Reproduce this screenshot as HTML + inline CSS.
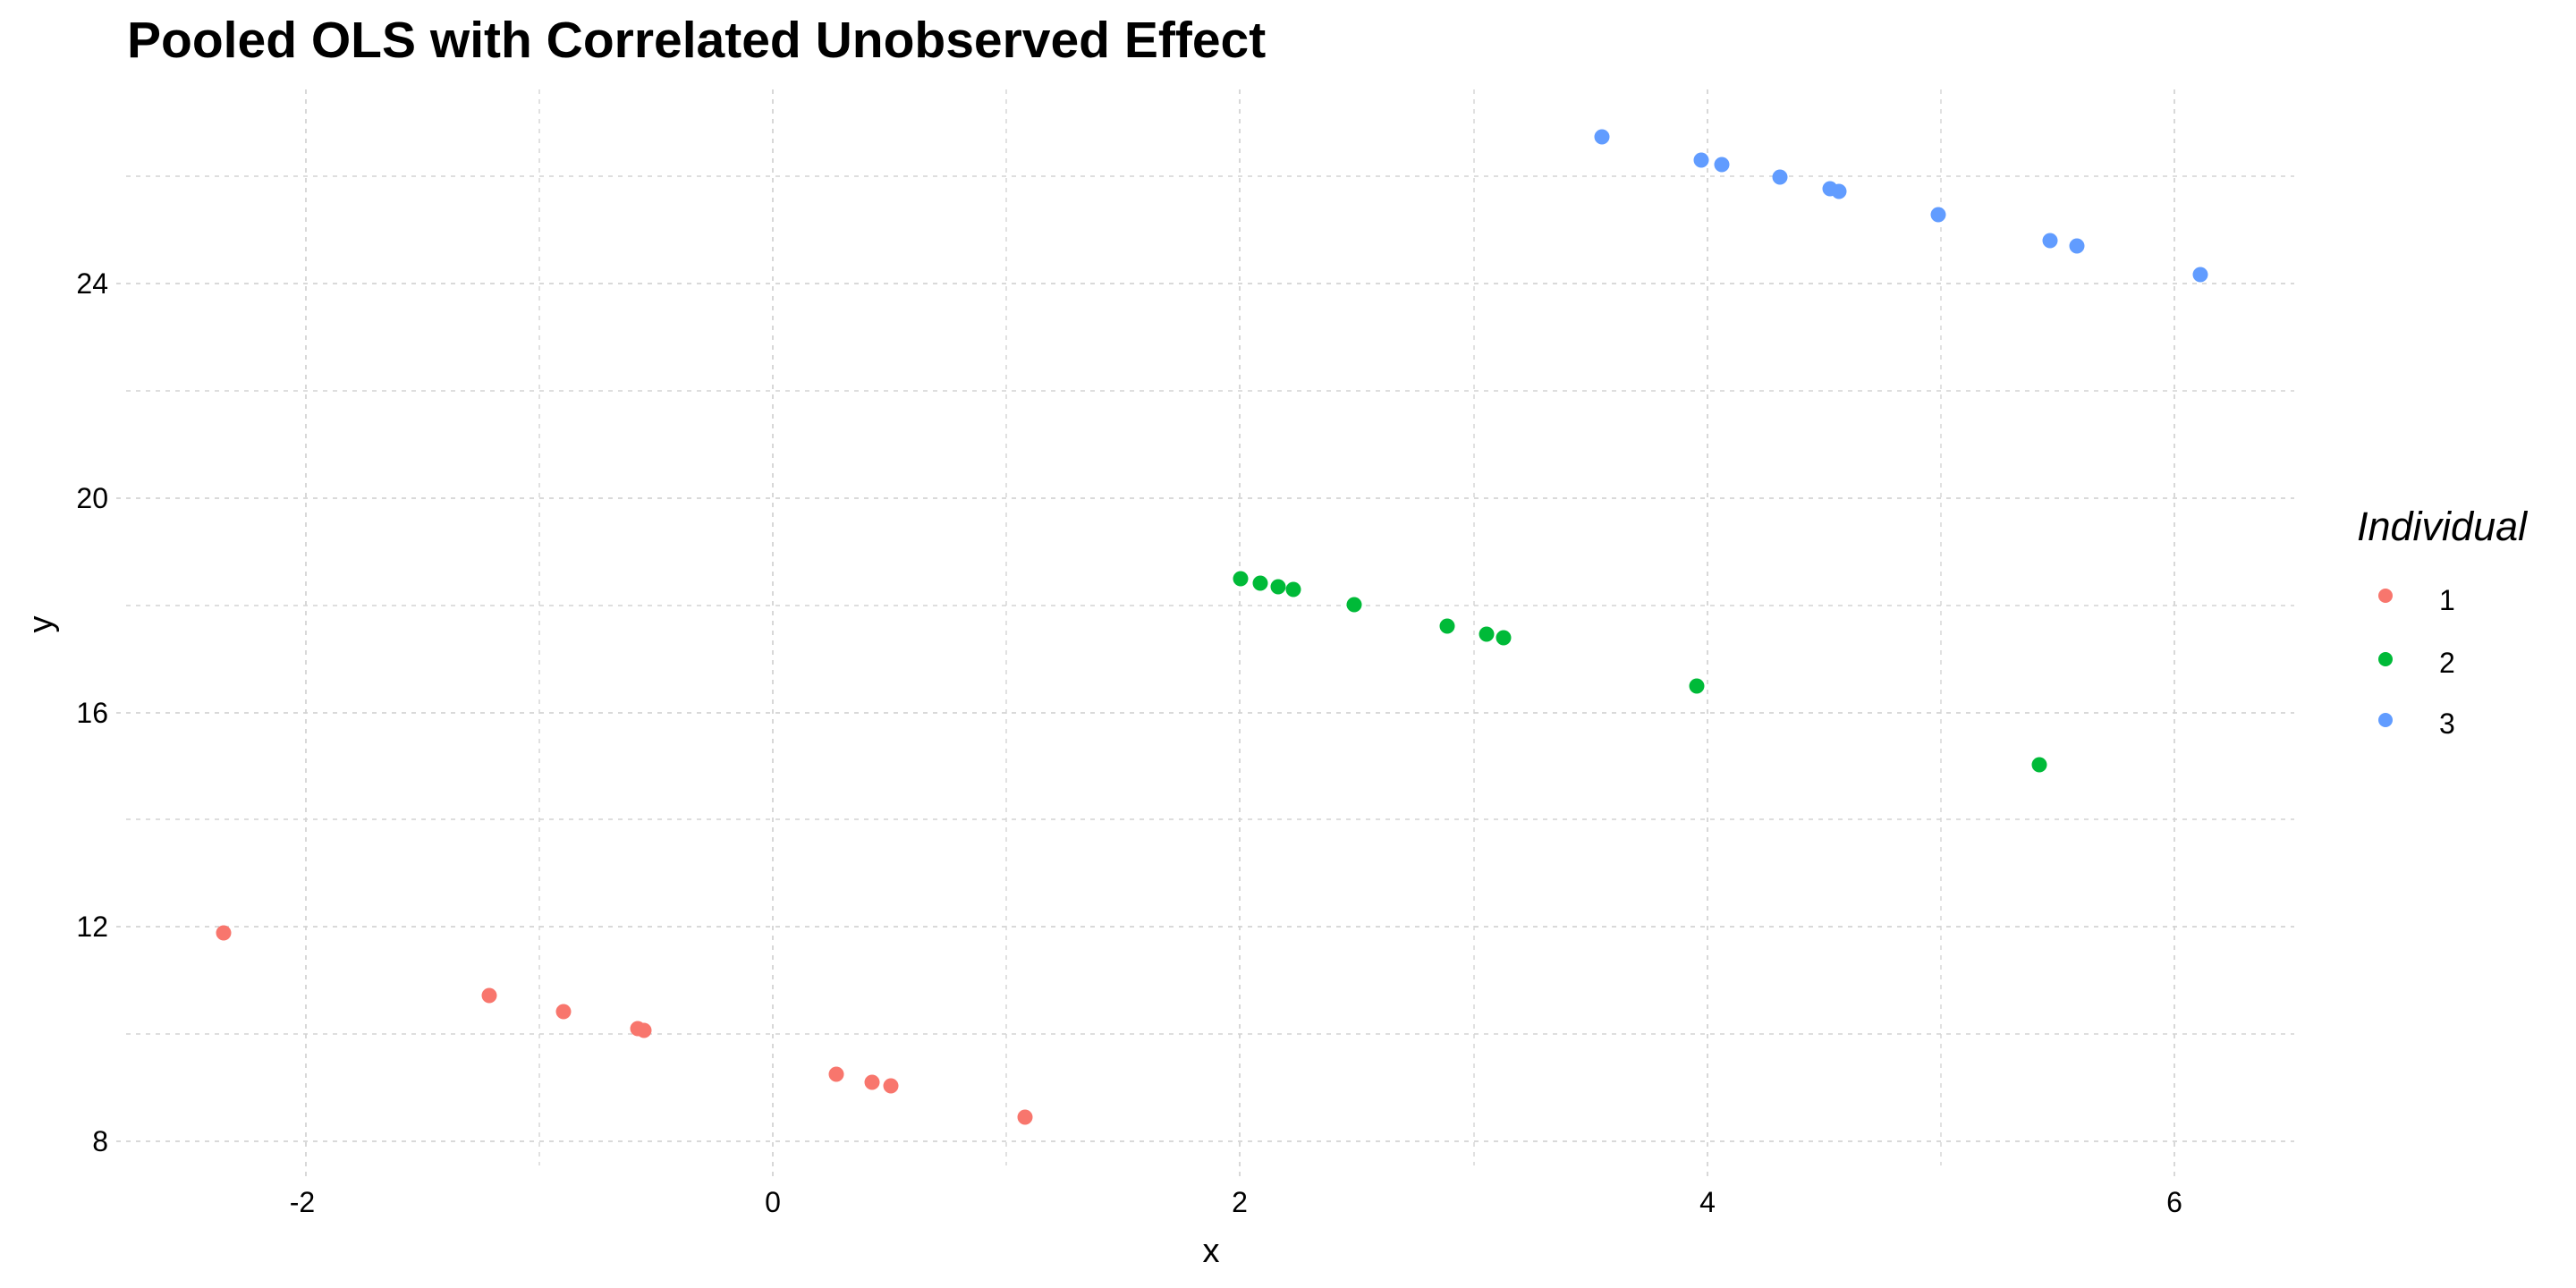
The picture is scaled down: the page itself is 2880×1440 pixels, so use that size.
<!DOCTYPE html>
<html><head><meta charset="utf-8"><style>
html,body{margin:0;padding:0;background:#fff;}
svg{display:block;font-family:"Liberation Sans",Arial,sans-serif;}
</style></head><body>
<svg width="2880" height="1440" viewBox="0 0 2880 1440" xmlns="http://www.w3.org/2000/svg">
<rect width="2880" height="1440" fill="#fff"/>
<g stroke="#d4d4d4" stroke-dasharray="5,6" fill="none">
 <g stroke-width="1.4">
  <line x1="603" y1="100" x2="603" y2="1303"/><line x1="1125" y1="100" x2="1125" y2="1303"/>
  <line x1="1648" y1="100" x2="1648" y2="1303"/><line x1="2170" y1="100" x2="2170" y2="1303"/>
  <line x1="141" y1="1156" x2="2565" y2="1156"/><line x1="141" y1="916" x2="2565" y2="916"/>
  <line x1="141" y1="677" x2="2565" y2="677"/><line x1="141" y1="437" x2="2565" y2="437"/>
  <line x1="141" y1="197" x2="2565" y2="197"/>
 </g>
 <g stroke-width="1.8">
  <line x1="342" y1="100" x2="342" y2="1315"/><line x1="864" y1="100" x2="864" y2="1315"/>
  <line x1="1386" y1="100" x2="1386" y2="1315"/><line x1="1909" y1="100" x2="1909" y2="1315"/>
  <line x1="2431" y1="100" x2="2431" y2="1315"/>
  <line x1="130" y1="1276" x2="2565" y2="1276"/><line x1="130" y1="1036" x2="2565" y2="1036"/>
  <line x1="130" y1="797" x2="2565" y2="797"/><line x1="130" y1="557" x2="2565" y2="557"/>
  <line x1="130" y1="317" x2="2565" y2="317"/>
 </g>
</g>
<g font-size="32" fill="#000" text-anchor="end">
 <text x="121" y="1287">8</text><text x="121" y="1047">12</text><text x="121" y="808">16</text>
 <text x="121" y="568">20</text><text x="121" y="328">24</text>
</g>
<g font-size="32" fill="#000" text-anchor="middle">
 <text x="338" y="1355">-2</text><text x="864" y="1355">0</text><text x="1386" y="1355">2</text>
 <text x="1909" y="1355">4</text><text x="2431" y="1355">6</text>
</g>
<text x="1354" y="1411" font-size="38" text-anchor="middle">x</text>
<text x="0" y="0" font-size="38" text-anchor="middle" transform="translate(58,698) rotate(-90)">y</text>
<text x="142" y="64" font-size="57" font-weight="bold">Pooled OLS with Correlated Unobserved Effect</text>
<g fill="#F8766D">
 <circle cx="250" cy="1043" r="8.5"/><circle cx="547" cy="1113" r="8.5"/><circle cx="630" cy="1131" r="8.5"/>
 <circle cx="713" cy="1150" r="8.5"/><circle cx="720" cy="1152" r="8.5"/><circle cx="935" cy="1201" r="8.5"/>
 <circle cx="975" cy="1210" r="8.5"/><circle cx="996" cy="1214" r="8.5"/><circle cx="1146" cy="1249" r="8.5"/>
</g>
<g fill="#00BA38">
 <circle cx="1387" cy="647" r="8.5"/><circle cx="1409" cy="652" r="8.5"/><circle cx="1429" cy="656" r="8.5"/>
 <circle cx="1446" cy="659" r="8.5"/><circle cx="1514" cy="676" r="8.5"/><circle cx="1618" cy="700" r="8.5"/>
 <circle cx="1662" cy="709" r="8.5"/><circle cx="1681" cy="713" r="8.5"/><circle cx="1897" cy="767" r="8.5"/>
 <circle cx="2280" cy="855" r="8.5"/>
</g>
<g fill="#619CFF">
 <circle cx="1791" cy="153" r="8.5"/><circle cx="1902" cy="179" r="8.5"/><circle cx="1925" cy="184" r="8.5"/>
 <circle cx="1990" cy="198" r="8.5"/><circle cx="2046" cy="211" r="8.5"/><circle cx="2056" cy="214" r="8.5"/>
 <circle cx="2167" cy="240" r="8.5"/><circle cx="2292" cy="269" r="8.5"/><circle cx="2322" cy="275" r="8.5"/>
 <circle cx="2460" cy="307" r="8.5"/>
</g>
<text x="2635" y="604" font-size="45" font-style="italic">Individual</text>
<circle cx="2667" cy="666" r="8" fill="#F8766D"/>
<circle cx="2667" cy="737" r="8" fill="#00BA38"/>
<circle cx="2667" cy="805" r="8" fill="#619CFF"/>
<g font-size="32">
 <text x="2727" y="682">1</text><text x="2727" y="752">2</text><text x="2727" y="820">3</text>
</g>
</svg>
</body></html>
